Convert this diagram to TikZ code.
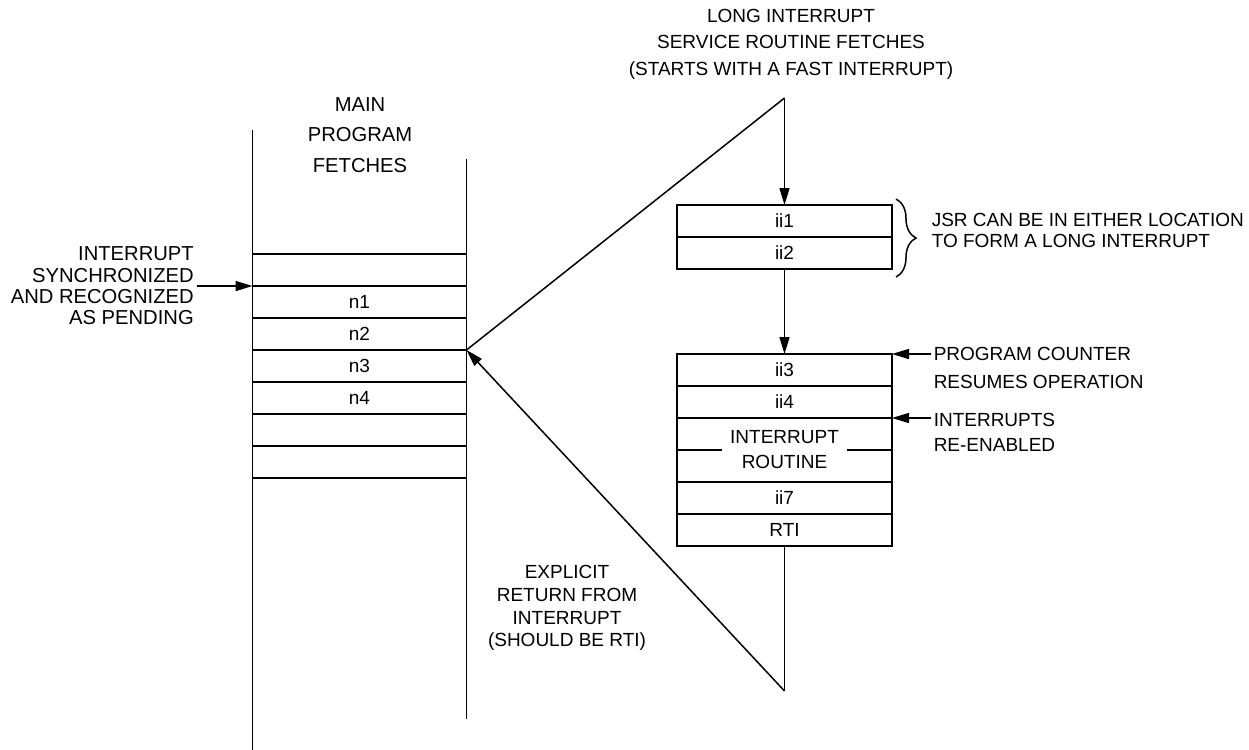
\documentclass[tikz,border=0pt]{standalone}
\usepackage{fontspec}
\setmainfont{Liberation Sans}
\usetikzlibrary{arrows.meta, positioning, calc, decorations.pathreplacing}

\begin{document}
\begin{tikzpicture}[
        x=0.5pt, y=-0.5pt,
        line width=0.75pt,
        node distance=0mm,
        font=\fontsize{9.5}{11.5}\selectfont,
        cell/.style={draw, rectangle, outer sep=0pt, inner sep=0pt, minimum height=16pt, minimum width=107pt, align=center},
        rcell/.style={cell, minimum width=107.5pt},
        note/.style={align=center, inner sep=1pt, font=\fontsize{9.5}{#1}\selectfont},
        note/.default=11.5pt,
        bignote/.style={align=center, inner sep=1pt, font=\fontsize{10.1}{#1}\selectfont},
        arr/.style={-{Triangle[length=8.5pt, width=5pt]}}
    ]
        \useasboundingbox (0,0) rectangle (1249,750);

        % Main program fetches
        \node[cell, anchor=north west] (e0) at (252.5,254) {};
        \node[cell, below=of e0] (n1) {n1};
        \node[cell, below=of n1] (n2) {n2};
        \node[cell, below=of n2] (n3) {n3};
        \node[cell, below=of n3] (n4) {n4};
        \node[cell, below=of n4] (e5) {};
        \node[cell, below=of e5] (e6) {};
        \draw ($(e0.north west)+(0,-124)$) -- ($(e6.south west)+(0,272)$);
        \draw ($(e0.north east)+(0,-95)$) -- ($(e6.south east)+(0,241)$);
        \node[bignote=15.25pt] (mainlbl) at (360,135) {MAIN\\PROGRAM\\FETCHES};

        % Interrupt recognized
        \node[bignote=10.65pt, align=right, anchor=east] (pending) at ($(n1.north west)+(-56,0)$) {INTERRUPT\\SYNCHRONIZED\\AND RECOGNIZED\\AS PENDING};
        \draw[arr] (pending.east) -- (n1.north west);

        % Long interrupt service routine
        \node[rcell, anchor=north west] (ii1) at (677,205) {ii1};
        \node[rcell, below=of ii1] (ii2) {ii2};
        \node[rcell, anchor=north west] (ii3) at (677,354) {ii3};
        \node[rcell, below=of ii3] (ii4) {ii4};
        \node[rcell, below=of ii4, minimum height=32pt] (routine) {};
        \node[note=12.5pt, inner xsep=3.5pt] (routinetext) at (routine) {INTERRUPT\\ROUTINE};
        \draw (routine.west) -- (routinetext.west);
        \draw (routinetext.east) -- (routine.east);
        \node[rcell, below=of routine] (ii7) {ii7};
        \node[rcell, below=of ii7] (rti) {RTI};
        \node[note=13.25pt] (longlbl) at (791,44) {LONG INTERRUPT\\SERVICE ROUTINE FETCHES\\(STARTS WITH A FAST INTERRUPT)};

        % Fetch paths
        \coordinate (apextop) at ($(ii1.north)+(0,-107)$);
        \coordinate (apexbot) at ($(rti.south)+(0,145)$);
        \draw (n3.north east) -- (apextop);
        \draw[arr] (apextop) -- (ii1.north);
        \draw[arr] (ii2.south) -- (ii3.north);
        \draw (rti.south) -- (apexbot);
        \draw[arr] (apexbot) -- (n3.north east);
        \node[note=11.35pt] (explicit) at (567,608) {EXPLICIT\\RETURN FROM\\INTERRUPT\\(SHOULD BE RTI)};

        % Side notes
        \draw[decorate, decoration={brace, amplitude=10pt}]
            ($(ii1.north east)+(4,-6)$) -- ($(ii2.south east)+(4,8)$);
        \node[note=10.5pt, align=left, anchor=west] (jsr) at (929,230) {JSR CAN BE IN EITHER LOCATION\\TO FORM A LONG INTERRUPT};
        \node[note=13.75pt, align=left, anchor=west] (pcnote) at (931,368) {PROGRAM COUNTER\\RESUMES OPERATION};
        \draw[arr] (pcnote.west |- ii3.north east) -- (ii3.north east);
        \node[note=12.5pt, align=left, anchor=west] (ienote) at (931,432) {INTERRUPTS\\RE-ENABLED};
        \draw[arr] (ienote.west |- ii4.south east) -- (ii4.south east);

    \end{tikzpicture}
\end{document}
